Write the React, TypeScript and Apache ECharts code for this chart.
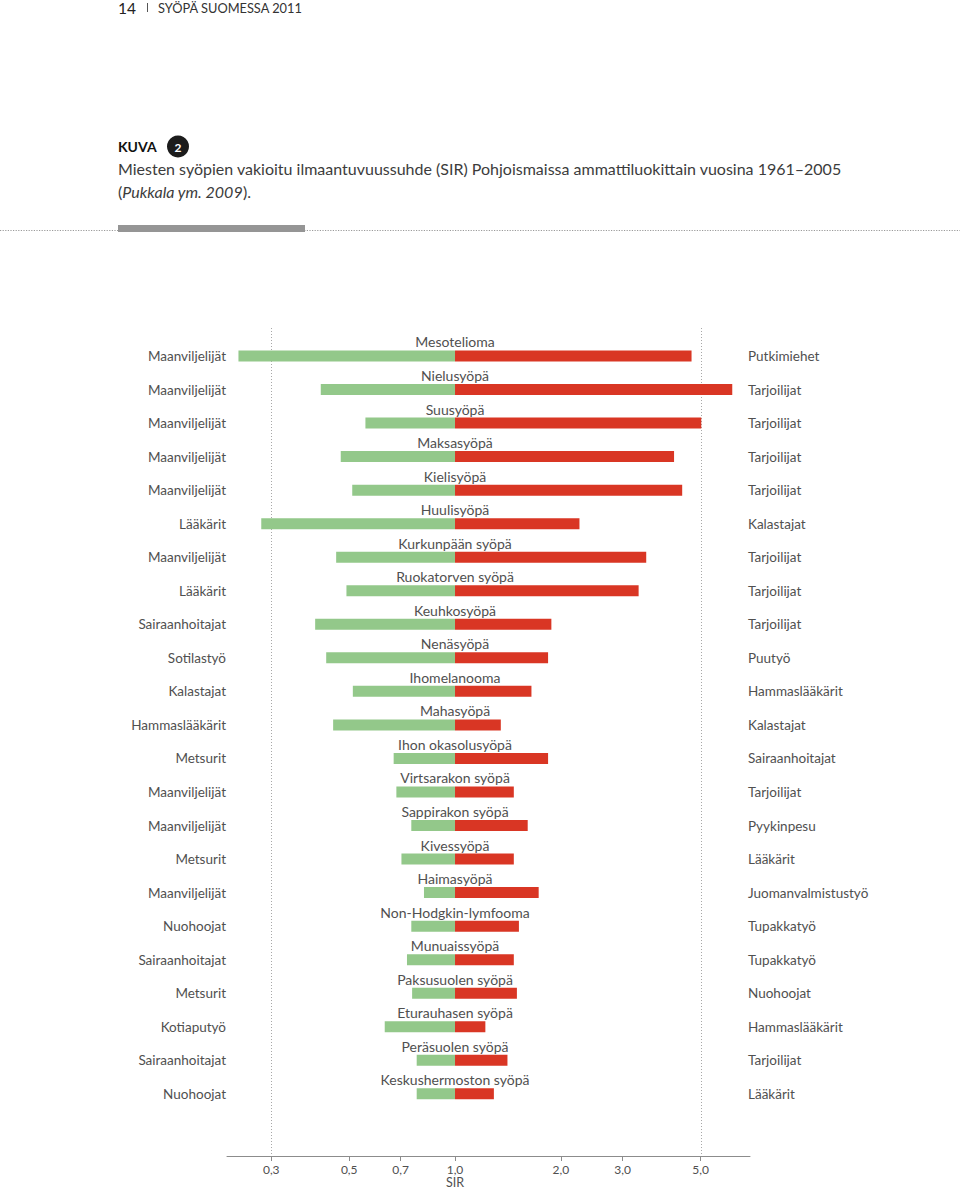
import React, { useEffect, useRef } from "react";
import * as echarts from "echarts";

const cancers = [
  "Mesotelioma", "Nielusyöpä", "Suusyöpä", "Maksasyöpä", "Kielisyöpä", "Huulisyöpä",
  "Kurkunpään syöpä", "Ruokatorven syöpä", "Keuhkosyöpä", "Nenäsyöpä", "Ihomelanooma",
  "Mahasyöpä", "Ihon okasolusyöpä", "Virtsarakon syöpä", "Sappirakon syöpä", "Kivessyöpä",
  "Haimasyöpä", "Non-Hodgkin-lymfooma", "Munuaissyöpä", "Paksusuolen syöpä",
  "Eturauhasen syöpä", "Peräsuolen syöpä", "Keskushermoston syöpä",
];

const lowOccupation = [
  "Maanviljelijät", "Maanviljelijät", "Maanviljelijät", "Maanviljelijät", "Maanviljelijät",
  "Lääkärit", "Maanviljelijät", "Lääkärit", "Sairaanhoitajat", "Sotilastyö", "Kalastajat",
  "Hammaslääkärit", "Metsurit", "Maanviljelijät", "Maanviljelijät", "Metsurit",
  "Maanviljelijät", "Nuohoojat", "Sairaanhoitajat", "Metsurit", "Kotiaputyö",
  "Sairaanhoitajat", "Nuohoojat",
];

const highOccupation = [
  "Putkimiehet", "Tarjoilijat", "Tarjoilijat", "Tarjoilijat", "Tarjoilijat", "Kalastajat",
  "Tarjoilijat", "Tarjoilijat", "Tarjoilijat", "Puutyö", "Hammaslääkärit", "Kalastajat",
  "Sairaanhoitajat", "Tarjoilijat", "Pyykinpesu", "Lääkärit", "Juomanvalmistustyö",
  "Tupakkatyö", "Tupakkatyö", "Nuohoojat", "Hammaslääkärit", "Tarjoilijat", "Lääkärit",
];

const lowSIR = [
  0.242, 0.415, 0.556, 0.473, 0.51, 0.281, 0.459, 0.491, 0.4, 0.43, 0.512, 0.45,
  0.669, 0.681, 0.751, 0.704, 0.816, 0.751, 0.73, 0.755, 0.631, 0.778, 0.778,
];

const highSIR = [
  4.71, 6.15, 5.02, 4.2, 4.43, 2.26, 3.5, 3.33, 1.88, 1.84, 1.65, 1.35,
  1.84, 1.47, 1.61, 1.47, 1.73, 1.52, 1.47, 1.5, 1.22, 1.41, 1.29,
];

const tickValues = [0.3, 0.5, 0.7, 1, 2, 3, 5];
const referenceLines = [0.3, 5];
const BASELINE = 1;
const X_MIN = 0.2245;
const X_MAX = 6.908;

const GREEN = "#93c88a";
const RED = "#d93624";
const TEXT = "#505050";
const FONT = "Lato, 'Open Sans', sans-serif";

export default function App() {
  const ref = useRef<HTMLDivElement>(null);

  useEffect(() => {
    document.body.style.margin = "0";
    const chart = echarts.init(ref.current!, null, { renderer: "svg" });

    const rows = cancers.map((c, i) => [i, lowSIR[i], highSIR[i]]);

    const option: any = {
      animation: false,
      backgroundColor: "#ffffff",
      textStyle: { fontFamily: FONT },
      grid: [
        { left: 227, right: 210, top: 339.2, height: 771.4 },
        { left: 227, right: 210, top: 328, bottom: 36 },
      ],
      xAxis: [
        { gridIndex: 0, type: "log", min: X_MIN, max: X_MAX, show: false },
        {
          gridIndex: 1,
          type: "log",
          min: X_MIN,
          max: X_MAX,
          position: "bottom",
          axisLine: { show: true, lineStyle: { color: "#8c8c8c", width: 1 } },
          axisTick: {
            show: true,
            customValues: tickValues,
            length: 5,
            lineStyle: { color: "#8c8c8c" },
          },
          minorTick: { show: false },
          splitLine: { show: false },
          axisLabel: {
            customValues: tickValues,
            margin: 7,
            fontSize: 12,
            color: TEXT,
            fontFamily: FONT,
            formatter: (v: number) => v.toFixed(1).replace(".", ","),
          },
        },
      ],
      yAxis: [
        {
          gridIndex: 0,
          type: "category",
          data: lowOccupation,
          inverse: true,
          position: "left",
          axisLine: { show: false },
          axisTick: { show: false },
          splitLine: { show: false },
          axisLabel: { interval: 0, margin: 1, fontSize: 13.5, color: TEXT, fontFamily: FONT },
        },
        {
          gridIndex: 0,
          type: "category",
          data: highOccupation,
          inverse: true,
          position: "right",
          axisLine: { show: false },
          axisTick: { show: false },
          splitLine: { show: false },
          axisLabel: { interval: 0, margin: -2, fontSize: 13.5, color: TEXT, fontFamily: FONT },
        },
        { gridIndex: 1, type: "value", min: 0, max: 1, show: false },
      ],
      series: [
        {
          type: "custom",
          name: "viivat",
          xAxisIndex: 1,
          yAxisIndex: 2,
          z: 1,
          data: referenceLines.map((v) => [v]),
          encode: { x: 0 },
          renderItem: (params: any, api: any) => {
            const v = api.value(0);
            const top = api.coord([v, 1]);
            const bottom = api.coord([v, 0]);
            const x = Math.round(top[0]) + 0.5;
            return {
              type: "line",
              shape: { x1: x, y1: top[1], x2: x, y2: bottom[1] },
              style: { stroke: "#a8a8a8", lineWidth: 1, lineDash: [1, 2] },
            };
          },
        },
        {
          type: "custom",
          name: "SIR",
          xAxisIndex: 0,
          yAxisIndex: 0,
          z: 5,
          data: rows,
          encode: { x: [1, 2], y: 0 },
          renderItem: (params: any, api: any) => {
            const i = api.value(0);
            const lo = api.value(1);
            const hi = api.value(2);
            const c = api.coord([BASELINE, i]);
            const pl = api.coord([lo, i]);
            const ph = api.coord([hi, i]);
            const h = 11;
            return {
              type: "group",
              children: [
                {
                  type: "rect",
                  shape: { x: pl[0], y: c[1] - h / 2, width: c[0] - pl[0], height: h },
                  style: { fill: GREEN },
                },
                {
                  type: "rect",
                  shape: { x: c[0], y: c[1] - h / 2, width: ph[0] - c[0], height: h },
                  style: { fill: RED },
                },
                {
                  type: "text",
                  x: c[0],
                  y: c[1] - 14,
                  z2: 10,
                  style: {
                    text: cancers[i],
                    align: "center",
                    verticalAlign: "middle",
                    fontSize: 14,
                    fill: TEXT,
                    fontFamily: FONT,
                  },
                },
              ],
            };
          },
        },
      ],
      graphic: [
        {
          type: "text",
          left: 118,
          top: 0,
          style: { text: "14", fontSize: 15.5, fill: "#222", fontFamily: FONT },
        },
        {
          type: "line",
          shape: { x1: 147.5, y1: 3, x2: 147.5, y2: 12 },
          style: { stroke: "#555", lineWidth: 1 },
        },
        {
          type: "text",
          left: 158,
          top: 1,
          style: { text: "SYÖPÄ SUOMESSA 2011", fontSize: 12.8, fill: "#333", fontFamily: FONT },
        },
        {
          type: "text",
          left: 118,
          top: 139,
          style: { text: "KUVA", fontSize: 14, fontWeight: "bold", fill: "#111", fontFamily: FONT },
        },
        {
          type: "circle",
          shape: { cx: 178, cy: 146.5, r: 11 },
          style: { fill: "#1c1c1c" },
        },
        {
          type: "text",
          x: 178,
          y: 147,
          style: {
            text: "2",
            align: "center",
            verticalAlign: "middle",
            fontSize: 12,
            fontWeight: "bold",
            fill: "#ffffff",
            fontFamily: FONT,
          },
        },
        {
          type: "text",
          left: 118,
          top: 160,
          style: {
            text: "Miesten syöpien vakioitu ilmaantuvuussuhde (SIR) Pohjoismaissa ammattiluokittain vuosina 1961–2005",
            fontSize: 16,
            fill: "#3c3c3c",
            fontFamily: FONT,
          },
        },
        {
          type: "text",
          left: 118,
          top: 183,
          style: {
            text: "({i|Pukkala ym. 2009}).",
            fontSize: 16,
            fill: "#3c3c3c",
            fontFamily: FONT,
            rich: { i: { fontStyle: "italic", fontSize: 16, fill: "#3c3c3c", fontFamily: FONT } },
          },
        },
        {
          type: "line",
          shape: { x1: 0, y1: 230.5, x2: 960, y2: 230.5 },
          style: { stroke: "#9a9a9a", lineWidth: 1.2, lineDash: [1.2, 1.4] },
        },
        {
          type: "rect",
          shape: { x: 118, y: 225, width: 187, height: 7 },
          style: { fill: "#959595" },
        },
        {
          type: "text",
          x: 455,
          y: 1182,
          style: {
            text: "SIR",
            align: "center",
            verticalAlign: "middle",
            fontSize: 12.5,
            fill: TEXT,
            fontFamily: FONT,
          },
        },
      ],
    };

    chart.setOption(option);
    return () => chart.dispose();
  }, []);

  return (
    <div
      ref={ref}
      style={{ position: "absolute", left: 0, top: 0, width: 960, height: 1192 }}
    />
  );
}
